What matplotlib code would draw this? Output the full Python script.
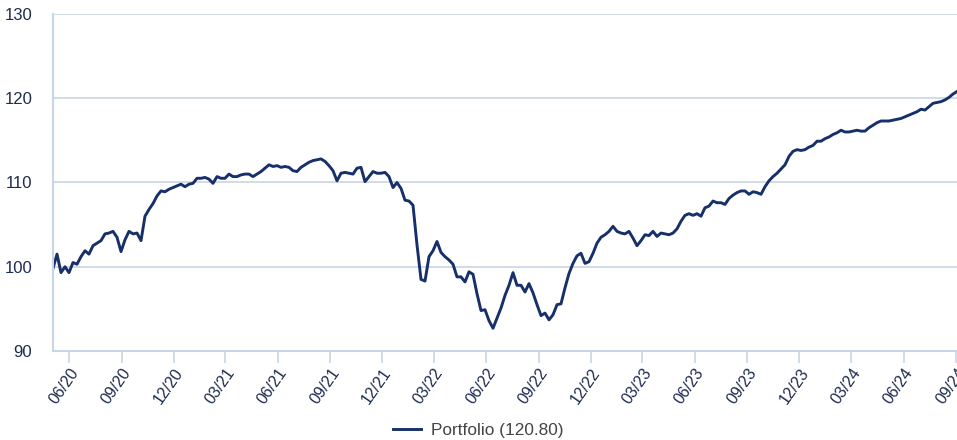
import matplotlib
matplotlib.use("Agg")
import matplotlib.pyplot as plt
import matplotlib.dates as mdates
import pandas as pd

# weekly portfolio index
START = "2020-05-04"
vals_2020 = [99.8, 101.5, 99.3, 100.0, 99.3, 100.5, 100.3, 101.2, 101.9, 101.5,
             102.5, 102.8, 103.1, 103.9, 104.0, 104.2, 103.5, 101.8, 103.2, 104.2,
             103.9, 104.0, 103.1, 106.0, 106.8, 107.5, 108.4, 109.0, 108.9, 109.2,
             109.4, 109.6, 109.8, 109.5, 109.8, 109.9, 110.5, 110.5, 110.6]
vals_2021 = [110.4, 109.9, 110.7, 110.5, 110.5, 111.0, 110.7, 110.7, 110.9, 111.0,
             111.0, 110.7, 111.0, 111.3, 111.7, 112.1, 111.9, 112.0, 111.8, 111.9,
             111.8, 111.4, 111.3, 111.8, 112.1, 112.4, 112.6, 112.7, 112.8, 112.5,
             112.0, 111.4, 110.2, 111.1, 111.2, 111.1, 111.0, 111.7, 111.8, 110.1,
             110.7, 111.3, 111.1, 111.1, 111.2, 110.7, 109.4, 110.0, 109.3, 107.9,
             107.8, 107.3]
vals_2022 = [102.6, 98.5, 98.3, 101.2, 101.9, 103.0, 101.7, 101.2, 100.8, 100.3,
             98.8, 98.8, 98.2, 99.4, 99.1, 96.8, 94.8, 94.9, 93.6, 92.7,
             93.9, 95.1, 96.6, 97.8, 99.3, 97.8, 97.8, 97.0, 98.0, 96.9,
             95.5, 94.2, 94.5, 93.7, 94.3, 95.5, 95.6, 97.5, 99.2, 100.4,
             101.3, 101.6, 100.4, 100.6, 101.6, 102.8, 103.5, 103.8, 104.2, 104.8,
             104.2, 104.0, 103.9, 104.2, 103.4, 102.5]
vals_2023 = [103.1, 103.8, 103.7, 104.2, 103.6, 104.0, 103.9, 103.8, 104.0, 104.5,
             105.4, 106.1, 106.3, 106.1, 106.3, 106.0, 107.0, 107.2, 107.8, 107.6,
             107.6, 107.4, 108.1, 108.5, 108.8, 109.0, 109.0, 108.6, 108.9, 108.8,
             108.6, 109.5, 110.2, 110.7, 111.1, 111.6, 112.1, 113.1, 113.7, 113.9,
             113.8, 113.9, 114.2, 114.4, 114.9, 114.9, 115.2, 115.4, 115.7, 115.9]
vals_2024 = [116.2, 116.0, 116.0, 116.1, 116.2, 116.1, 116.1, 116.5, 116.8, 117.1,
             117.3, 117.3, 117.3, 117.4, 117.5, 117.6, 117.8, 118.0, 118.2, 118.4,
             118.7, 118.6, 119.0, 119.4, 119.5, 119.6, 119.8, 120.1, 120.5, 120.8]

values = vals_2020 + vals_2021 + vals_2022 + vals_2023 + vals_2024
dates = pd.date_range(START, periods=len(values), freq="7D")
LABEL = "Portfolio (120.80)"
Y_TICKS = [90, 100, 110, 120, 130]

NAVY = "#17306a"
GRID = "#c9d4e4"
TXT = "#1d2b4f"

plt.rcParams["font.family"] = ["Liberation Sans", "DejaVu Sans"]

fig = plt.figure(figsize=(9.57, 4.40), dpi=100)
ax = fig.add_axes([53 / 957, 1 - 351 / 440, 1 - 53 / 957, (351 - 14) / 440])

ax.plot(dates, values, color=NAVY, lw=2.1, label=LABEL, solid_joinstyle="round")

ax.set_ylim(90, 130)
ax.set_yticks(Y_TICKS)
ax.set_xlim(dates[0], dates[-1])
ax.xaxis.set_major_locator(mdates.MonthLocator(bymonth=[3, 6, 9, 12]))
ax.xaxis.set_major_formatter(mdates.DateFormatter("%m/%y"))

ax.grid(axis="y", color=GRID, lw=1.2)
ax.set_axisbelow(True)
for s in ["top", "right"]:
    ax.spines[s].set_visible(False)
for s in ["left", "bottom"]:
    ax.spines[s].set_color(GRID)
    ax.spines[s].set_linewidth(1.5)

ax.tick_params(axis="y", length=0, pad=15, labelsize=12, labelcolor=TXT)
ax.tick_params(axis="x", length=8.5, width=1.2, color=GRID, pad=2,
               labelsize=11.5, labelcolor=TXT)
for lab in ax.get_xticklabels():
    lab.set_rotation(55)
    lab.set_ha("right")
    lab.set_rotation_mode("anchor")

fig.legend(loc="center", bbox_to_anchor=(0.5, 1 - 430 / 440), frameon=False,
           fontsize=12.4, labelcolor="#444444", handlelength=1.6, handletextpad=0.6)

fig.savefig("out.png", dpi=100)
